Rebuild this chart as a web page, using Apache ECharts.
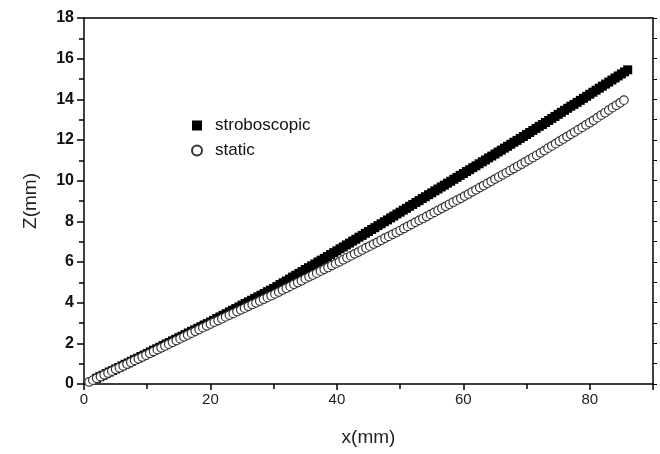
<!DOCTYPE html>
<html><head><meta charset="utf-8">
<script src="https://cdn.jsdelivr.net/npm/echarts@6/dist/echarts.min.js"></script>
<style>html,body{margin:0;padding:0;background:#fff}#c{width:660px;height:454px}</style>
</head><body><div id="c"></div>
<script>
// stroboscopic (black squares)
const strobX = [2.0,2.5,3.0,3.5,4.0,4.5,5.0,5.5,6.0,6.5,7.0,7.5,8.0,8.5,9.0,9.5,10.0,
10.5,11.0,11.5,12.0,12.5,13.0,13.5,14.0,14.5,15.0,15.5,16.0,16.5,17.0,17.5,18.0,18.5,19.0,19.5,20.0,
20.5,21.0,21.5,22.0,22.5,23.0,23.5,24.0,24.5,25.0,25.5,26.0,26.5,27.0,27.5,28.0,28.5,29.0,29.5,30.0,
30.5,31.0,31.5,32.0,32.5,33.0,33.5,34.0,34.5,35.0,35.5,36.0,36.5,37.0,37.5,38.0,38.5,39.0,39.5,40.0,
40.5,41.0,41.5,42.0,42.5,43.0,43.5,44.0,44.5,45.0,45.5,46.0,46.5,47.0,47.5,48.0,48.5,49.0,49.5,50.0,
50.5,51.0,51.5,52.0,52.5,53.0,53.5,54.0,54.5,55.0,55.5,56.0,56.5,57.0,57.5,58.0,58.5,59.0,59.5,60.0,
60.5,61.0,61.5,62.0,62.5,63.0,63.5,64.0,64.5,65.0,65.5,66.0,66.5,67.0,67.5,68.0,68.5,69.0,69.5,70.0,
70.5,71.0,71.5,72.0,72.5,73.0,73.5,74.0,74.5,75.0,75.5,76.0,76.5,77.0,77.5,78.0,78.5,79.0,79.5,80.0,
80.5,81.0,81.5,82.0,82.5,83.0,83.5,84.0,84.5,85.0,85.5,86.0];
const strobZ = [0.28,0.36,0.43,0.51,0.59,0.66,0.74,0.81,0.89,0.97,1.04,1.12,1.20,1.27,1.35,1.42,1.50,
1.58,1.66,1.73,1.81,1.89,1.97,2.04,2.12,2.20,2.28,2.35,2.43,2.51,2.59,2.66,2.74,2.82,2.90,2.97,3.05,
3.13,3.22,3.30,3.38,3.46,3.55,3.63,3.71,3.79,3.88,3.96,4.04,4.12,4.21,4.29,4.37,4.45,4.54,4.62,4.70,
4.79,4.89,4.98,5.07,5.16,5.26,5.35,5.44,5.53,5.63,5.72,5.81,5.90,6.00,6.09,6.18,6.27,6.37,6.46,6.55,
6.65,6.74,6.84,6.93,7.03,7.12,7.22,7.31,7.41,7.50,7.60,7.69,7.79,7.88,7.98,8.07,8.17,8.26,8.36,8.45,
8.55,8.64,8.74,8.83,8.93,9.02,9.12,9.21,9.31,9.40,9.50,9.59,9.69,9.78,9.88,9.97,10.07,10.16,10.26,10.35,
10.45,10.54,10.64,10.73,10.83,10.93,11.02,11.12,11.21,11.31,11.41,11.50,11.60,11.69,11.79,11.89,11.98,12.08,12.17,12.27,
12.37,12.47,12.57,12.67,12.76,12.86,12.96,13.06,13.16,13.26,13.36,13.46,13.56,13.66,13.75,13.85,13.95,14.05,14.15,14.25,
14.35,14.45,14.55,14.65,14.75,14.85,14.95,15.05,15.15,15.25,15.35,15.45];
// static (open circles)
const staticX = [0.8,1.4,2.0,2.6,3.2,3.8,4.4,5.0,5.6,6.2,6.8,7.4,8.0,8.6,9.2,9.8,
10.4,11.0,11.6,12.2,12.8,13.4,14.0,14.6,15.2,15.8,16.4,17.0,17.6,18.2,18.8,19.4,20.0,
20.6,21.2,21.8,22.4,23.0,23.6,24.2,24.8,25.4,26.0,26.6,27.2,27.8,28.4,29.0,29.6,
30.2,30.8,31.4,32.0,32.6,33.2,33.8,34.4,35.0,35.6,36.2,36.8,37.4,38.0,38.6,39.2,39.8,
40.4,41.0,41.6,42.2,42.8,43.4,44.0,44.6,45.2,45.8,46.4,47.0,47.6,48.2,48.8,49.4,50.0,
50.6,51.2,51.8,52.4,53.0,53.6,54.2,54.8,55.4,56.0,56.6,57.2,57.8,58.4,59.0,59.6,
60.2,60.8,61.4,62.0,62.6,63.2,63.8,64.4,65.0,65.6,66.2,66.8,67.4,68.0,68.6,69.2,69.8,
70.4,71.0,71.6,72.2,72.8,73.4,74.0,74.6,75.2,75.8,76.4,77.0,77.6,78.2,78.8,79.4,80.0,
80.6,81.2,81.8,82.4,83.0,83.6,84.2,84.8,85.4];
const staticZ = [0.10,0.19,0.28,0.36,0.45,0.54,0.63,0.72,0.80,0.89,0.98,1.07,1.16,1.24,1.33,1.42,
1.51,1.60,1.69,1.78,1.87,1.96,2.05,2.14,2.23,2.32,2.41,2.50,2.59,2.68,2.77,2.86,2.95,
3.04,3.12,3.21,3.30,3.39,3.47,3.56,3.65,3.73,3.82,3.91,3.99,4.08,4.17,4.26,4.34,
4.43,4.52,4.62,4.71,4.80,4.90,4.99,5.08,5.18,5.27,5.36,5.45,5.55,5.64,5.73,5.83,5.92,
6.01,6.11,6.21,6.30,6.40,6.49,6.59,6.69,6.78,6.88,6.97,7.07,7.17,7.26,7.36,7.45,7.55,
7.65,7.75,7.85,7.95,8.05,8.14,8.24,8.34,8.44,8.54,8.64,8.74,8.84,8.94,9.04,9.13,
9.24,9.34,9.45,9.55,9.66,9.76,9.87,9.97,10.08,10.18,10.29,10.39,10.50,10.60,10.71,10.81,10.92,
11.03,11.14,11.25,11.37,11.48,11.60,11.71,11.82,11.94,12.05,12.17,12.28,12.39,12.51,12.62,12.74,12.85,
12.97,13.10,13.22,13.34,13.47,13.59,13.71,13.83,13.96];

const seriesNames = ['stroboscopic', 'static'];
const xTicks = [0, 20, 40, 60, 80];
const yTicks = [0, 2, 4, 6, 8, 10, 12, 14, 16, 18];

const pair = (xs, ys) => xs.map((x, i) => [x, ys[i]]);
const FONT = '"Liberation Sans", Arial, sans-serif';

const chart = echarts.init(document.getElementById('c'), null, {renderer: 'canvas'});
chart.setOption({
  animation: false,
  backgroundColor: '#fff',
  grid: {left: 84, right: 7, top: 18, bottom: 70, containLabel: false},
  legend: {
    orient: 'vertical', left: 186, top: 112,
    itemWidth: 10, itemHeight: 10, itemGap: 8,
    textStyle: {fontFamily: FONT, fontSize: 17, color: '#111', padding: [0, 0, 0, 8]},
    data: [{name: seriesNames[0], icon: 'rect'}, {name: seriesNames[1], icon: 'circle'}]
  },
  xAxis: [{
    type: 'value', min: xTicks[0], max: 90, interval: 20,
    name: 'x(mm)', nameLocation: 'middle', nameGap: 44,
    nameTextStyle: {fontFamily: FONT, fontSize: 19, color: '#222'},
    axisLine: {onZero: false, lineStyle: {color: '#000', width: 1.5}},
    axisTick: {length: 6, lineStyle: {color: '#000', width: 1.5}},
    minorTick: {show: true, splitNumber: 2, length: 5, lineStyle: {color: '#000', width: 1.5}},
    axisLabel: {fontFamily: FONT, fontSize: 15, color: '#222', margin: 8,
      formatter: v => xTicks.indexOf(v) >= 0 ? String(v) : ''},
    splitLine: {show: false}
  }, {
    type: 'value', position: 'top', min: 0, max: 90,
    axisLine: {onZero: false, lineStyle: {color: '#000', width: 1.5}},
    axisTick: {show: false}, axisLabel: {show: false}, splitLine: {show: false}
  }],
  yAxis: [{
    type: 'value', min: yTicks[0], max: 18, interval: 2,
    name: 'Z(mm)', nameLocation: 'middle', nameGap: 44, nameRotate: 90,
    nameTextStyle: {fontFamily: FONT, fontSize: 19, color: '#222'},
    axisLine: {onZero: false, lineStyle: {color: '#000', width: 1.5}},
    axisTick: {length: 7, lineStyle: {color: '#000', width: 1.5}},
    minorTick: {show: true, splitNumber: 2, length: 5, lineStyle: {color: '#000', width: 1.5}},
    axisLabel: {fontFamily: FONT, fontSize: 16, fontWeight: 'bold', color: '#111', margin: 10},
    splitLine: {show: false}
  }, {
    type: 'value', position: 'right', min: 0, max: 18, interval: 2,
    axisLine: {onZero: false, lineStyle: {color: '#000', width: 1.5}},
    axisTick: {show: true, length: 4, lineStyle: {color: '#000', width: 1}},
    minorTick: {show: true, splitNumber: 2, length: 4, lineStyle: {color: '#000', width: 1}},
    axisLabel: {show: false}, splitLine: {show: false}
  }],
  series: [{
    name: seriesNames[0], type: 'scatter', symbol: 'rect', symbolSize: 9,
    itemStyle: {color: '#000', opacity: 1},
    data: pair(strobX, strobZ)
  }, {
    name: seriesNames[1], type: 'scatter', symbol: 'circle', symbolSize: 8.5,
    itemStyle: {color: '#fff', borderColor: '#333', borderWidth: 1.2, opacity: 1},
    data: pair(staticX, staticZ)
  }]
});
</script></body></html>
